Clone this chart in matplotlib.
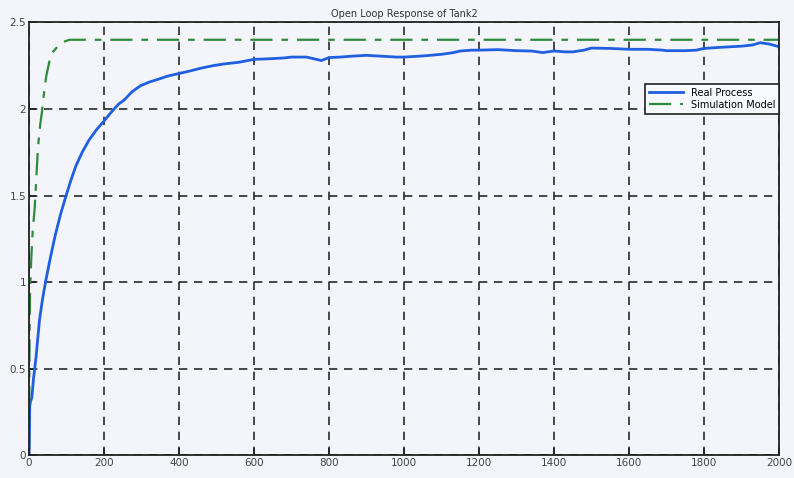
import numpy as np
import matplotlib
matplotlib.use("Agg")
import matplotlib.pyplot as plt

# Real process
t_real = [0, 1, 2, 4, 7.5, 12, 19, 28, 36, 45, 57, 70, 84, 99, 112, 125, 142, 160,
          180, 200, 215, 227, 240, 253, 275, 298, 320, 342, 370, 400, 430, 457,
          490, 519, 560, 600, 640, 680, 700, 740, 770, 780, 800, 830, 860, 900,
          940, 980, 1000, 1040, 1070, 1100, 1130, 1150, 1180, 1200, 1250, 1300,
          1340, 1370, 1400, 1430, 1450, 1480, 1500, 1550, 1600, 1650, 1690, 1700,
          1750, 1780, 1800, 1850, 1900, 1930, 1950, 1975, 2000]
y_real = [0, 0.05, 0.28, 0.31, 0.33, 0.44, 0.57, 0.78, 0.90, 1.01, 1.14, 1.27, 1.39,
          1.50, 1.59, 1.67, 1.75, 1.82, 1.88, 1.93, 1.97, 2.00, 2.03, 2.05, 2.10,
          2.135, 2.155, 2.17, 2.19, 2.205, 2.22, 2.235, 2.25, 2.26, 2.27, 2.287,
          2.29, 2.295, 2.30, 2.30, 2.285, 2.28, 2.297, 2.30, 2.305, 2.31, 2.305,
          2.30, 2.30, 2.305, 2.31, 2.316, 2.325, 2.335, 2.34, 2.34, 2.343, 2.337,
          2.335, 2.326, 2.335, 2.33, 2.33, 2.34, 2.352, 2.35, 2.345, 2.345, 2.34,
          2.337, 2.337, 2.34, 2.35, 2.357, 2.363, 2.37, 2.383, 2.375, 2.36]

# Simulation model
t_sim = [0, 1, 2, 3, 6, 10, 15, 20, 24, 30, 35, 40, 46, 55, 64, 80, 95, 108, 150,
         300, 600, 1000, 1500, 2000]
y_sim = [0, 0.45, 0.8, 0.95, 1.13, 1.30, 1.42, 1.62, 1.78, 1.91, 1.99, 2.09, 2.19,
         2.28, 2.33, 2.37, 2.39, 2.40, 2.40, 2.40, 2.40, 2.40, 2.40, 2.40]

x_ticks = [0, 200, 400, 600, 800, 1000, 1200, 1400, 1600, 1800, 2000]
y_ticks = [0, 0.5, 1, 1.5, 2, 2.5]

bg = '#f3f5fa'
fig = plt.figure(figsize=(7.94, 4.78), dpi=100, facecolor=bg)
ax = fig.add_axes([0.0365, 0.048, 0.9445, 0.905], facecolor=bg)

ax.plot(t_real, y_real, '-', color='#1f5fe0', lw=2.0, label='Real Process')
ax.plot(t_sim, y_sim, '-.', color='#2e8b3a', lw=1.6, dashes=(10, 4, 3, 4),
        label='Simulation Model')

ax.set_xlim(0, 2000)
ax.set_ylim(0, 2.5)
ax.set_xticks(x_ticks)
ax.set_yticks(y_ticks)
ax.set_yticklabels(['0', '0.5', '1', '1.5', '2', '2.5'])
ax.tick_params(direction='in', length=5, width=1.2, labelsize=7.5,
               labelcolor='#444444', color='#222222', pad=2)
ax.grid(True, color='#2a2a2a', linestyle=(0, (5, 4)), lw=1.2)
for s in ax.spines.values():
    s.set_color('#222222')
    s.set_linewidth(1.3)

ax.set_title('Open Loop Response of Tank2', fontsize=7, color='#333333', pad=4)

leg = ax.legend(loc='upper right', bbox_to_anchor=(1.0, 0.858), borderaxespad=0,
                fontsize=7, fancybox=False, framealpha=1, edgecolor='#222222',
                handlelength=3.5, labelspacing=0.2, borderpad=0.4)
leg.get_frame().set_facecolor('#f8f9fc')
leg.get_frame().set_linewidth(1.2)

fig.savefig('out.png', dpi=100, facecolor=bg)
